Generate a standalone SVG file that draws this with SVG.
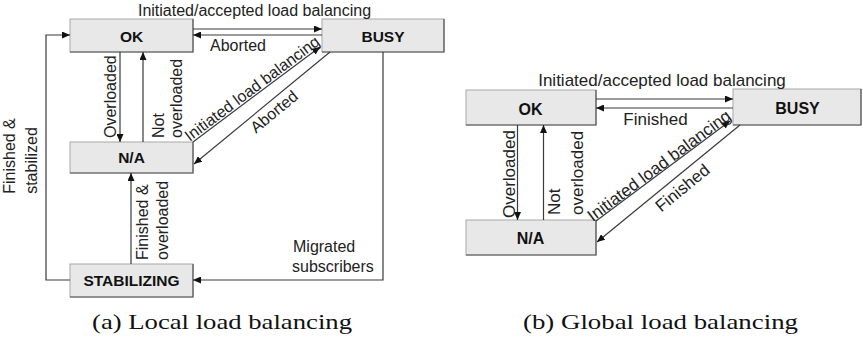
<svg xmlns="http://www.w3.org/2000/svg" width="863" height="338" viewBox="0 0 863 338">
<style>
.box{fill:#e8e8e8;stroke:#a8a8a8;stroke-width:1}
.sh{fill:none;stroke:#555;stroke-width:1.2}
.nl{font-family:"Liberation Sans",Arial,sans-serif;font-weight:bold;fill:#111;text-anchor:middle}
.a{font-size:15.5px}
.b{font-size:16px}
.lbl{font-family:"Liberation Sans",Arial,sans-serif;fill:#222}
.la{font-size:16px}
.lb{font-size:17px}
.mid{text-anchor:middle}
.edge{fill:none;stroke:#3a3a3a;stroke-width:1.2;marker-end:url(#ah)}
.cap{font-family:"Liberation Serif","Times New Roman",serif;font-size:22px;fill:#111;text-anchor:middle}
</style>
<defs>
<marker id="ah" markerUnits="userSpaceOnUse" markerWidth="9" markerHeight="7" refX="8" refY="3.5" orient="auto">
<path d="M0,0 L8,3.5 L0,7 z" fill="#111"/>
</marker>
</defs>

<g id="ok-a"><rect class="box" x="70" y="19" width="123" height="33"/><path class="sh" d="M70,52 H193 V19"/><text class="nl a" x="131.5" y="42">OK</text></g>
<g id="busy-a"><rect class="box" x="322" y="19" width="122" height="33"/><path class="sh" d="M322,52 H444 V19"/><text class="nl a" x="383" y="42">BUSY</text></g>
<g id="na-a"><rect class="box" x="70" y="142" width="123" height="31"/><path class="sh" d="M70,173 H193 V142"/><text class="nl a" x="131.5" y="163">N/A</text></g>
<g id="stab-a"><rect class="box" x="70" y="264" width="123" height="33"/><path class="sh" d="M70,297 H193 V264"/><text class="nl a" x="131.5" y="286">STABILIZING</text></g>

<g id="ok-b"><rect class="box" x="466" y="90" width="130" height="35"/><path class="sh" d="M466,125 H596 V90"/><text class="nl b" x="530.5" y="115">OK</text></g>
<g id="busy-b"><rect class="box" x="733" y="89" width="128" height="36"/><path class="sh" d="M733,125 H861 V89"/><text class="nl b" x="797.5" y="114">BUSY</text></g>
<g id="na-b"><rect class="box" x="466" y="220" width="130" height="35"/><path class="sh" d="M466,255 H596 V220"/><text class="nl b" x="530.5" y="244">N/A</text></g>

<g id="connectors">
<path class="edge" d="M193,29 H322"/>
<path class="edge" d="M322,35 H193"/>
<path class="edge" d="M120,52 V142"/>
<path class="edge" d="M143,142 V52"/>
<path class="edge" d="M131,264 V173"/>
<path class="edge" d="M70,280 H46 V35 H70"/>
<path class="edge" d="M383,52 V280 H193"/>
<path class="edge" d="M193,142 L320,47"/>
<path class="edge" d="M330,52 L194,164"/>

<path class="edge" d="M596,99 H733"/>
<path class="edge" d="M733,108 H596"/>
<path class="edge" d="M517.5,125 V220"/>
<path class="edge" d="M543.5,220 V125"/>
<path class="edge" d="M596,221 L730,121"/>
<path class="edge" d="M740,125 L597,242"/>
</g>

<g id="labels">
<text class="lbl la mid" x="254.5" y="16">Initiated/accepted load balancing</text>
<text class="lbl la mid" x="238" y="51">Aborted</text>
<text class="lbl la" transform="translate(116,138) rotate(-90)">Overloaded</text>
<text class="lbl la" transform="translate(163.5,138) rotate(-90)">Not</text>
<text class="lbl la" transform="translate(181.5,138) rotate(-90)">overloaded</text>
<text class="lbl la" transform="translate(148,260) rotate(-90)">Finished &amp;</text>
<text class="lbl la" transform="translate(168,260) rotate(-90)">overloaded</text>
<text class="lbl la mid" transform="translate(15,156) rotate(-90)">Finished &amp;</text>
<text class="lbl la mid" transform="translate(37,160.5) rotate(-90)">stabilized</text>
<text class="lbl la" x="293" y="252">Migrated</text>
<text class="lbl la" x="292" y="271.5">subscribers</text>
<text class="lbl la mid" transform="translate(256.5,94.5) rotate(-36.8)" x="0" y="-2">Initiated load balancing</text>
<text class="lbl la mid" transform="translate(262,108) rotate(-39.5)" x="7" y="16">Aborted</text>

<text class="lbl lb mid" x="662" y="86">Initiated/accepted load balancing</text>
<text class="lbl lb mid" x="655.5" y="124.5">Finished</text>
<text class="lbl lb" transform="translate(515,218) rotate(-90)">Overloaded</text>
<text class="lbl lb" transform="translate(560,215) rotate(-90)">Not</text>
<text class="lbl lb" transform="translate(583,215) rotate(-90)">overloaded</text>
<text class="lbl lb mid" transform="translate(663,171) rotate(-36.7)" x="0" y="-1">Initiated load balancing</text>
<text class="lbl lb mid" transform="translate(668.5,183.5) rotate(-39.3)" x="8" y="18">Finished</text>

<text class="cap" x="222" y="329" textLength="260" lengthAdjust="spacingAndGlyphs">(a) Local load balancing</text>
<text class="cap" x="660.5" y="329" textLength="275" lengthAdjust="spacingAndGlyphs">(b) Global load balancing</text>
</g>
</svg>
